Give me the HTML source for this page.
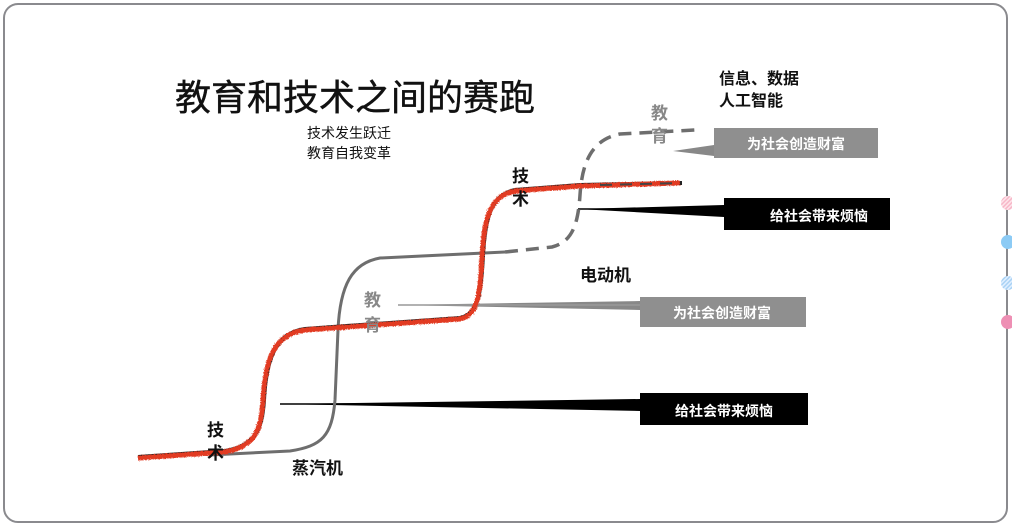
<!DOCTYPE html>
<html><head><meta charset="utf-8"><style>
body{margin:0;width:1012px;height:528px;background:#fff;overflow:hidden}
svg{display:block}
text{font-family:"Liberation Sans","Noto Sans CJK SC",sans-serif}
</style></head><body>
<svg width="1012" height="528" viewBox="0 0 1012 528" xmlns="http://www.w3.org/2000/svg">
<defs>
<pattern id="ps" width="3" height="3" patternUnits="userSpaceOnUse" patternTransform="rotate(45)"><rect width="3" height="3" fill="#fde4ea"/><rect width="1.5" height="3" fill="#f7b7c8"/></pattern>
<pattern id="pb" width="3" height="3" patternUnits="userSpaceOnUse" patternTransform="rotate(45)"><rect width="3" height="3" fill="#e0efff"/><rect width="1.5" height="3" fill="#a9d2f5"/></pattern>
<filter id="rough"><feTurbulence type="fractalNoise" baseFrequency="0.9" numOctaves="2" result="n"/><feDisplacementMap in="SourceGraphic" in2="n" scale="3"/></filter>
</defs>
<rect x="4" y="4" width="1003" height="518" rx="14" fill="#fff" stroke="#8a8a8e" stroke-width="2"/>
<circle cx="1008" cy="203" r="7" fill="url(#ps)"/>
<circle cx="1008" cy="242" r="7" fill="#8ccbf5"/>
<circle cx="1008" cy="283" r="7" fill="url(#pb)"/>
<circle cx="1008" cy="322" r="7" fill="#ee8fb4"/>

<text x="175" y="110" font-size="36" fill="#111" stroke="#111" stroke-width="0.4">教育和技术之间的赛跑</text>
<text x="307" y="138" font-size="14" fill="#111">技术发生跃迁</text>
<text x="307" y="158" font-size="14" fill="#111">教育自我变革</text>
<text x="719" y="84" font-size="16" font-weight="bold" fill="#111">信息、数据</text>
<text x="719" y="106" font-size="16" font-weight="bold" fill="#111">人工智能</text>

<polygon points="673,151 714,145 714,156" fill="#888"/>
<polygon points="578,209 724,205 724,217" fill="#000"/>
<polygon points="398,305 640,301 640,310" fill="#888"/>
<polygon points="280,404 640,399 640,411" fill="#000"/>
<line x1="578" y1="209" x2="724" y2="209" stroke="#000" stroke-width="1.5"/>
<line x1="280" y1="404" x2="640" y2="404" stroke="#000" stroke-width="1.5"/>
<line x1="398" y1="305" x2="640" y2="305" stroke="#999" stroke-width="1.5"/>

<rect x="714" y="128" width="164" height="30" fill="#8f8f8f"/>
<text x="796" y="149" font-size="14" fill="#fff" text-anchor="middle" font-weight="bold">为社会创造财富</text>
<rect x="724" y="198" width="166" height="32" fill="#000"/>
<text x="819" y="221" font-size="14" fill="#fff" text-anchor="middle" font-weight="bold">给社会带来烦恼</text>
<rect x="640" y="297" width="166" height="30" fill="#8f8f8f"/>
<text x="722" y="318" font-size="14" fill="#fff" text-anchor="middle" font-weight="bold">为社会创造财富</text>
<rect x="640" y="393" width="168" height="32" fill="#000"/>
<text x="724" y="416" font-size="14" fill="#fff" text-anchor="middle" font-weight="bold">给社会带来烦恼</text>

<path d="M210,455 L290,451 C322,446 332,436 335,400 L338,330 C340,285 352,263 380,258 L505,252" fill="none" stroke="#6e6e6e" stroke-width="3"/>
<path d="M505,252 L552,247 C572,242 578,225 580,195 C582,165 590,140 620,134 L695,130" fill="none" stroke="#6e6e6e" stroke-width="3.5" stroke-dasharray="13,8"/>

<path d="M138,457 L225,451 C255,446 262,430 264,400 C266,360 275,333 305,329 L460,318 C478,314 481,295 483,255 C485,220 490,195 515,190 L580,185 L682,183" fill="none" stroke="#222" stroke-width="4"/>
<path d="M138,458 L225,452 C256,446 261,430 263,400 C265,360 274,334 305,330 L460,319 C478,315 480,296 482,256 C484,220 489,196 515,191 L580,186 L680,183" fill="none" stroke="#e23a24" stroke-width="5" filter="url(#rough)"/>
<path d="M600,185 L680,183" fill="none" stroke="#444" stroke-width="2" stroke-dasharray="12,8"/>

<text x="207" y="436" font-size="17" font-weight="bold" fill="#111">技</text>
<text x="207" y="459" font-size="17" font-weight="bold" fill="#111">术</text>
<text x="512" y="182" font-size="17" font-weight="bold" fill="#111">技</text>
<text x="512" y="205" font-size="17" font-weight="bold" fill="#111">术</text>
<text x="364" y="306" font-size="17" font-weight="bold" fill="#888">教</text>
<text x="364" y="331" font-size="17" font-weight="bold" fill="#888">育</text>
<text x="651" y="119" font-size="17" font-weight="bold" fill="#888">教</text>
<text x="651" y="142" font-size="17" font-weight="bold" fill="#888">育</text>
<text x="580" y="281" font-size="17" font-weight="bold" fill="#111">电动机</text>
<text x="292" y="474" font-size="17" font-weight="bold" fill="#111">蒸汽机</text>
</svg>
</body></html>
